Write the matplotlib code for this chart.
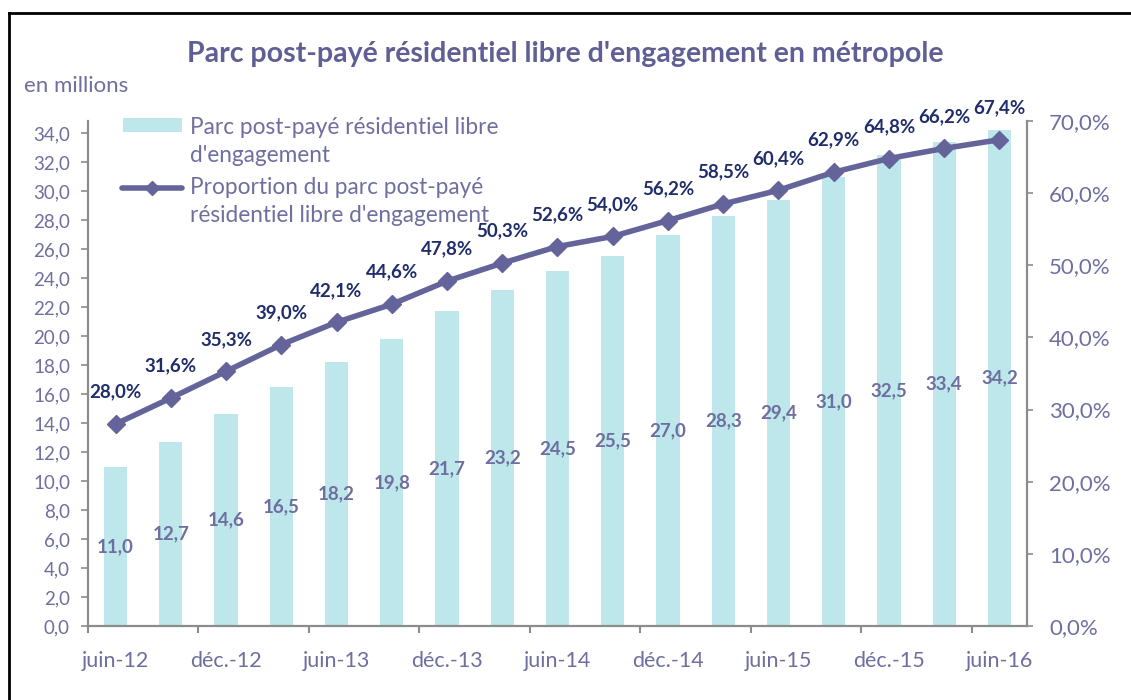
import matplotlib
matplotlib.use("Agg")
import matplotlib.pyplot as plt
from matplotlib.patches import Rectangle
from matplotlib.lines import Line2D
import numpy as np

plt.rcParams['font.family'] = ['Lato', 'DejaVu Sans']

categories = ["juin-12", "sept.-12", "déc.-12", "mars-13", "juin-13", "sept.-13", "déc.-13",
              "mars-14", "juin-14", "sept.-14", "déc.-14", "mars-15", "juin-15", "sept.-15",
              "déc.-15", "mars-16", "juin-16"]
parc = [11.0, 12.7, 14.6, 16.5, 18.2, 19.8, 21.7, 23.2, 24.5, 25.5, 27.0, 28.3, 29.4, 31.0, 32.5, 33.4, 34.2]
proportion = [28.0, 31.6, 35.3, 39.0, 42.1, 44.6, 47.8, 50.3, 52.6, 54.0, 56.2, 58.5, 60.4, 62.9, 64.8, 66.2, 67.4]
left_ticks = [0, 2, 4, 6, 8, 10, 12, 14, 16, 18, 20, 22, 24, 26, 28, 30, 32, 34]
right_ticks = [0, 10, 20, 30, 40, 50, 60, 70]
legend_bar_lines = ["Parc post-payé résidentiel libre", "d'engagement"]
legend_line_lines = ["Proportion du parc post-payé", "résidentiel libre d'engagement"]

BAR = "#BDE7EA"
LINE = "#64649A"
TXT = "#6E6EA0"
NAVY = "#1F2D6B"
SPINE = "#8C8C8C"

W, H = 1131, 700
fig = plt.figure(figsize=(W / 100, H / 100), dpi=100)
ax = fig.add_axes([88 / W, 1 - 626 / H, (1027 - 88) / W, (626 - 121) / H])
ax2 = ax.twinx()

x = np.arange(len(categories))
ax.bar(x, parc, width=0.42, color=BAR, zorder=2)
for xi, v in zip(x, parc):
    ax.text(xi, v / 2, f"{v:.1f}".replace(".", ","), ha="center", va="center",
            color=TXT, fontsize=13.5, fontweight="bold", zorder=3)

ax.set_xlim(-0.5, len(categories) - 0.5)
ax.set_ylim(0, 34.83)
ax.set_yticks(left_ticks)
ax.set_yticklabels([f"{t:.1f}".replace(".", ",") for t in left_ticks])

ax2.plot(x, proportion, color=LINE, lw=4, marker="D", markersize=9, zorder=4)
for xi, v in zip(x, proportion):
    ax2.annotate(f"{v:.1f}%".replace(".", ","), (xi, v), xytext=(0, 32), textcoords="offset pixels",
                 ha="center", va="center", color=NAVY, fontsize=13.5, fontweight="bold")
ax2.set_ylim(0, 70)
ax2.set_yticks(right_ticks)
ax2.set_yticklabels([f"{t:.1f}%".replace(".", ",") for t in right_ticks])

# x ticks: marks at boundaries every 2 categories, labels every 2 categories
ax.set_xticks(np.arange(-0.5, len(categories) - 1, 2))
ax.set_xticklabels([])
ax.set_xticks(x[::2], minor=True)
ax.set_xticklabels([categories[i] for i in x[::2]], minor=True)
ax.tick_params(axis="x", which="minor", length=0, pad=18, labelsize=15.5, labelcolor=TXT)
ax.tick_params(axis="x", which="major", length=5, width=1.5, color=SPINE, direction="out")
ax.tick_params(axis="y", length=5, width=1.2, color=SPINE, labelsize=13.5, labelcolor=TXT, pad=8)
ax2.tick_params(axis="y", length=4.5, width=1.2, color=SPINE, labelsize=16, labelcolor=TXT, pad=11.5)

for a in (ax, ax2):
    a.spines["top"].set_visible(False)
    for s in ("left", "right", "bottom"):
        a.spines[s].set_color(SPINE)
        a.spines[s].set_linewidth(1.6)
ax2.spines["left"].set_visible(False)
ax2.spines["bottom"].set_visible(False)
ax.spines["right"].set_visible(False)

fig.text(0.5, 1 - 54 / H, "Parc post-payé résidentiel libre d'engagement en métropole",
         ha="center", va="center", fontsize=20.5, fontweight="bold", color="#5F5F96")
fig.text(24 / W, 1 - 86 / H, "en millions", ha="left", va="center", fontsize=16, color=TXT)

# legend (drawn by hand so the key sits on the first text line, as in the original)
def fy(py):
    return 1 - py / H

fig.add_artist(Rectangle((123 / W, fy(132)), (182 - 123) / W, 14 / H, transform=fig.transFigure,
                         facecolor=BAR, edgecolor="none", zorder=5))
fig.add_artist(Line2D([122 / W, 182 / W], [fy(188), fy(188)], transform=fig.transFigure,
                      color=LINE, lw=4, solid_capstyle="round", zorder=5))
fig.add_artist(Line2D([152 / W], [fy(188)], transform=fig.transFigure, color=LINE, marker="D",
                      markersize=7, zorder=6))
for py, s in zip([127, 155], legend_bar_lines):
    fig.text(190 / W, fy(py), s, ha="left", va="center", fontsize=16.3, color=TXT, zorder=5)
for py, s in zip([188, 215], legend_line_lines):
    fig.text(190 / W, fy(py), s, ha="left", va="center", fontsize=16.3, color=TXT, zorder=5)

# frame (left and top edges visible)
fig.add_artist(Line2D([9 / W, 9 / W], [0, 1 - 13 / H], transform=fig.transFigure, color="black", lw=2))
fig.add_artist(Line2D([9 / W, 1], [1 - 13 / H, 1 - 13 / H], transform=fig.transFigure, color="black", lw=2))

fig.savefig("out.png", dpi=100)
